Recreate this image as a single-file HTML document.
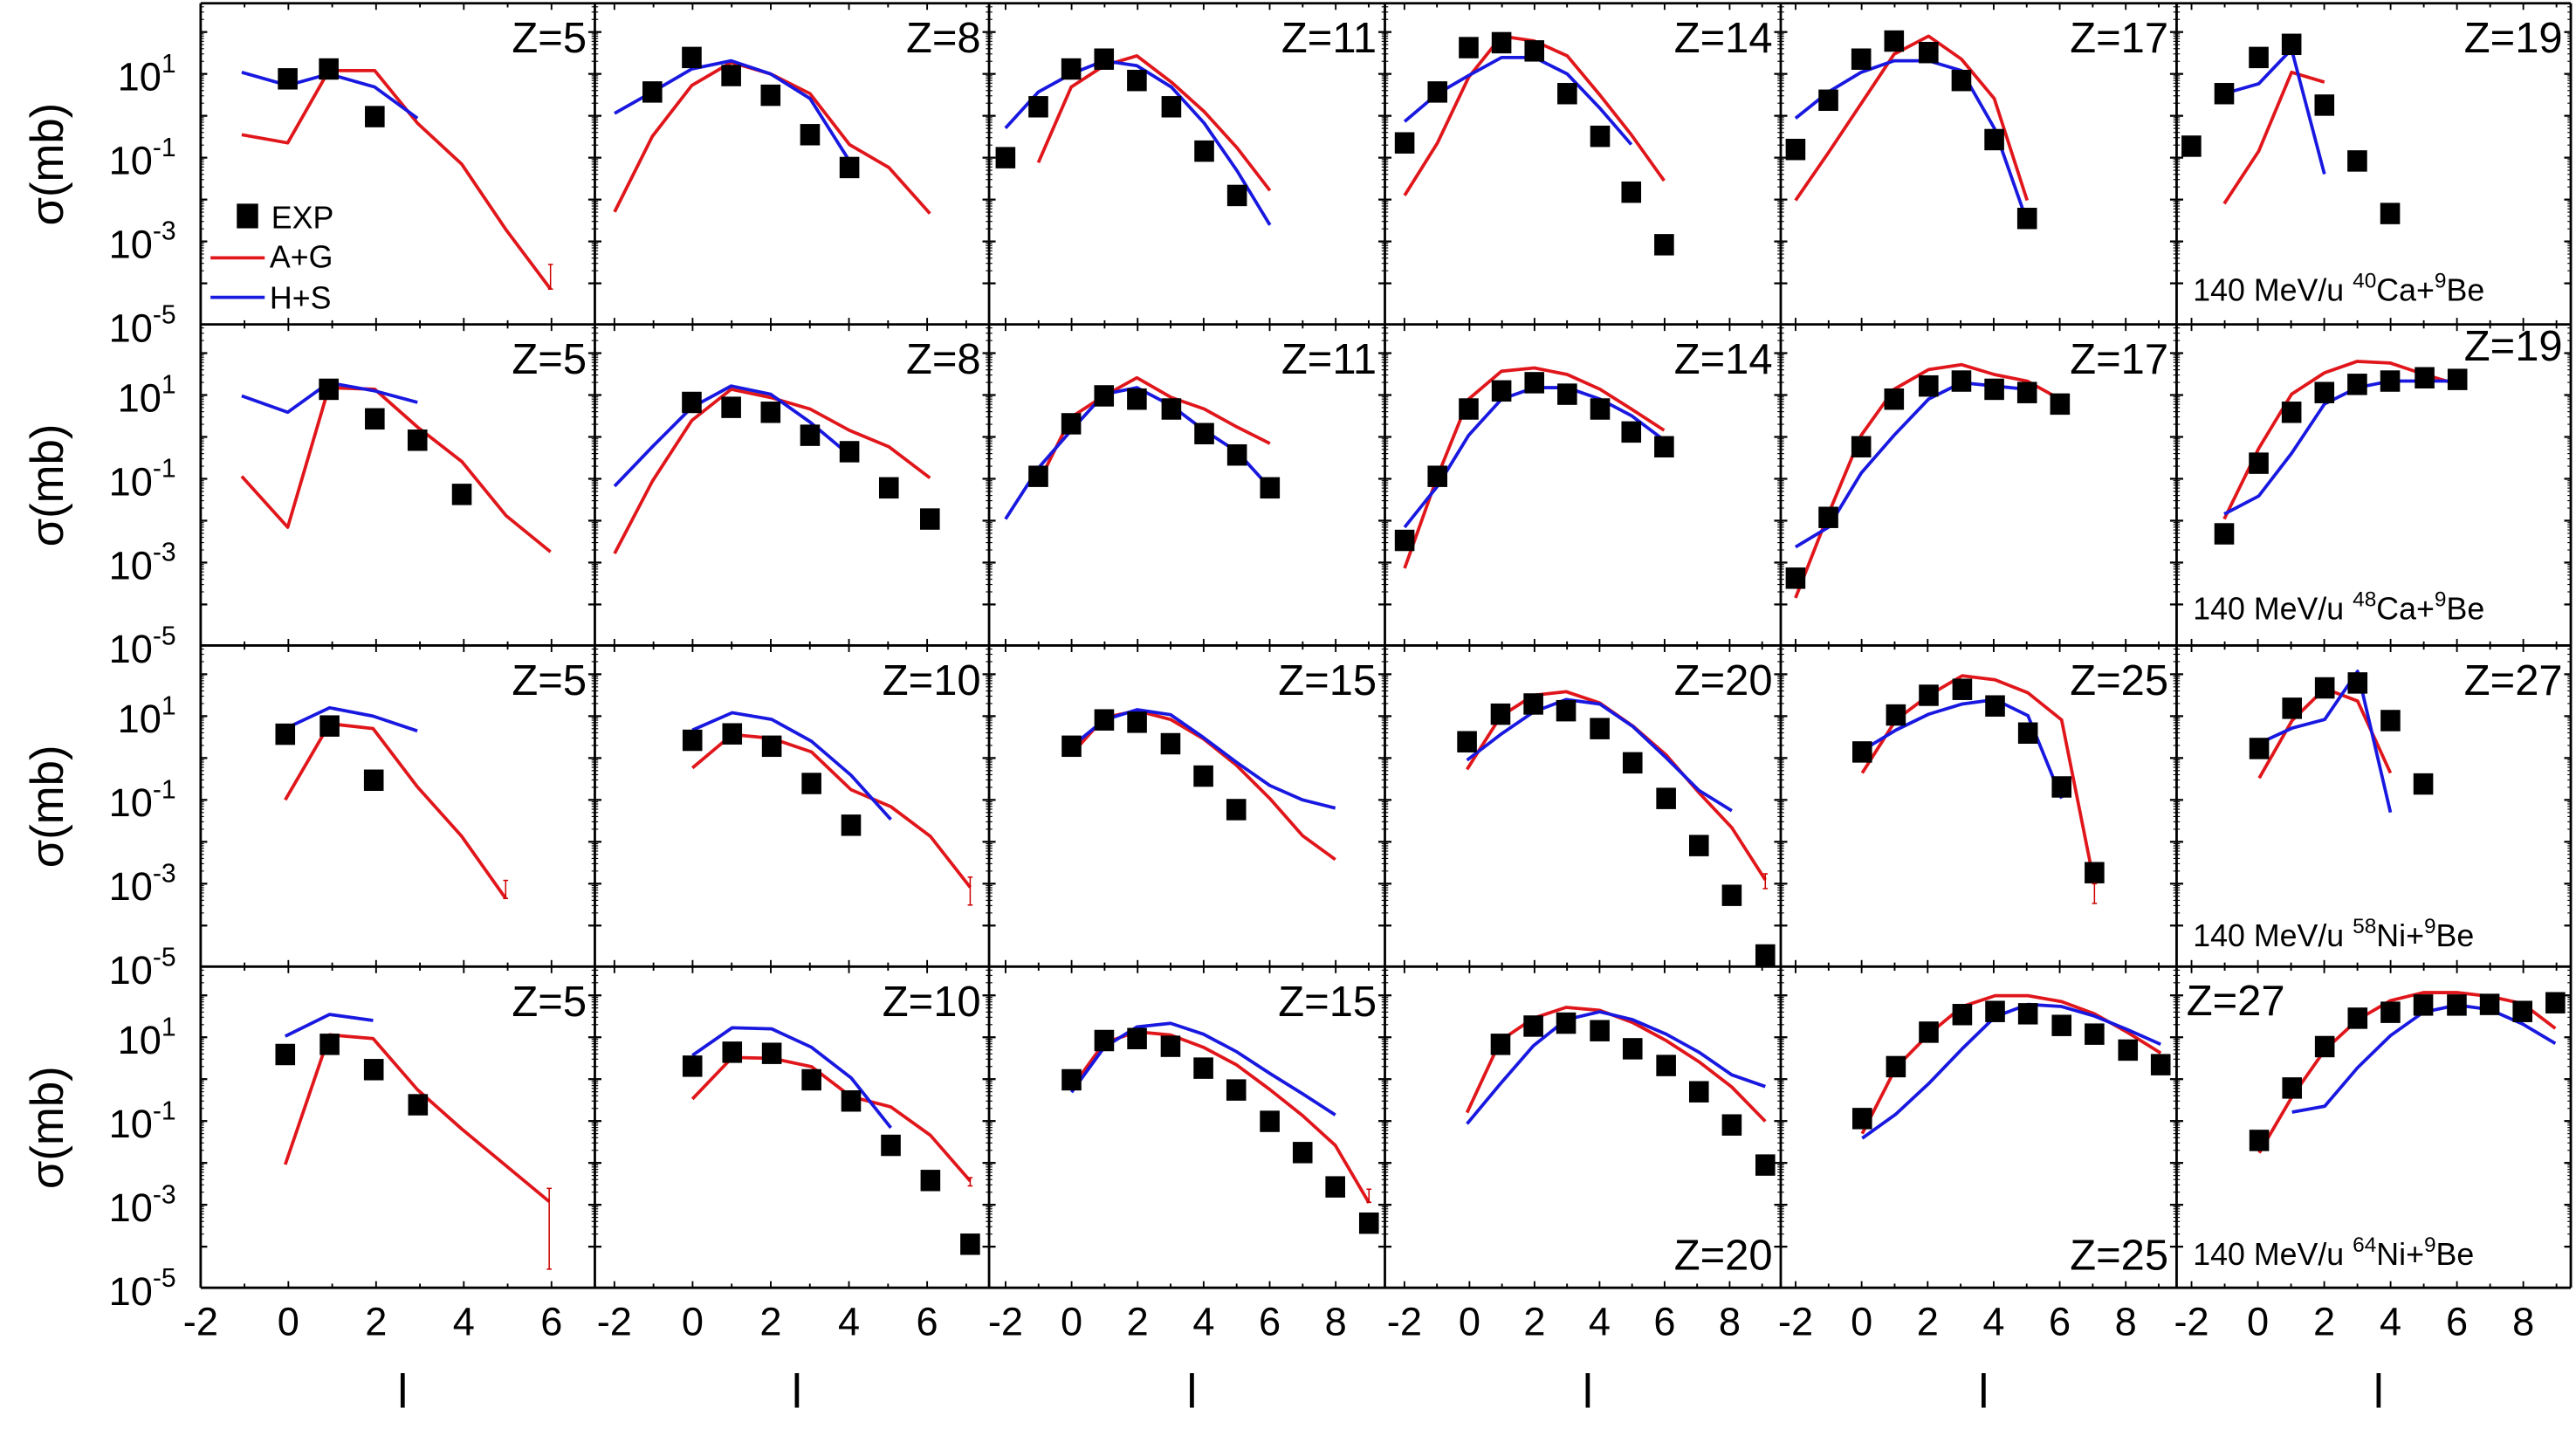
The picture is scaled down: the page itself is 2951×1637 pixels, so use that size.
<!DOCTYPE html>
<html><head><meta charset="utf-8"><style>
html,body{margin:0;padding:0;background:#fff}
svg{display:block}
text{font-family:"Liberation Sans Narrow","Liberation Sans",sans-serif;fill:#000}
</style></head><body>
<svg id="s" width="2951" height="1637" viewBox="0 0 1568 870" xmlns="http://www.w3.org/2000/svg"></svg>
<script>
const S=document.getElementById('s');const NS='http://www.w3.org/2000/svg';
function el(t,a,txt){const e=document.createElementNS(NS,t);for(const k in a)e.setAttribute(k,a[k]);if(txt!==undefined)e.textContent=txt;S.appendChild(e);return e;}
const cols=[122,362,602,843,1084,1325,1565];
const rows=[2,197.5,393,588.5,784];
const P={
'0,0':[[[175,48],[200,42],[228,71]],[[147,82],[175,87],[200,43],[228,43],[254,75],[281,100],[308,140],[335,176]],[[147,44],[175,52],[200,45],[228,53],[254,72]]],
'0,1':[[[397,56],[421,35],[445,46],[469,58],[493,82],[517,102]],[[374,129],[397,83],[421,52],[445,38],[469,45],[493,57],[517,88],[541,102],[566,130]],[[374,69],[397,56],[421,42],[445,37],[469,45],[493,60],[517,98]]],
'0,2':[[[612,96],[632,65],[652,42],[672,36],[692,49],[713,65],[733,92],[753,119]],[[632,99],[652,53],[672,40],[692,34],[713,50],[733,68],[753,90],[773,116]],[[612,78],[632,56],[652,45],[672,37],[692,40],[713,53],[733,75],[753,104],[773,137]]],
'0,3':[[[855,87],[875,56],[894,29],[914,26],[934,31],[954,57],[974,83],[993,117],[1013,149]],[[855,119],[875,87],[894,47],[914,22],[934,25],[954,34],[974,58],[993,82],[1013,110]],[[855,74],[875,57],[894,46],[914,35],[934,35],[954,45],[974,66],[993,88]]],
'0,4':[[[1093,91],[1113,61],[1133,36],[1153,25],[1174,32],[1194,49],[1214,85],[1234,133]],[[1093,122],[1113,93],[1133,63],[1153,33],[1174,22],[1194,36],[1214,60],[1234,122]],[[1093,72],[1113,56],[1133,44],[1153,37],[1174,37],[1194,43],[1214,78],[1234,135]]],
'0,5':[[[1334,89],[1354,57],[1375,35],[1395,27],[1415,64],[1435,98],[1455,130]],[[1354,124],[1375,92],[1395,44],[1415,50]],[[1354,57],[1375,51],[1395,30],[1415,106]]],
'1,0':[[[200,237],[228,255],[254,268],[281,301]],[[147,290],[175,321],[200,236],[228,237],[254,260],[281,281],[308,314],[335,336]],[[147,241],[175,251],[200,233],[228,238],[254,245]]],
'1,1':[[[421,245],[445,248],[469,251],[493,265],[517,275],[541,297],[566,316]],[[374,337],[397,293],[421,256],[445,237],[469,242],[493,249],[517,262],[541,272],[566,291]],[[374,296],[397,272],[421,248],[445,235],[469,240],[493,257],[517,277]]],
'1,2':[[[632,290],[652,258],[672,241],[692,243],[713,249],[733,264],[753,277],[773,297]],[[632,294],[652,254],[672,241],[692,230],[713,242],[733,249],[753,260],[773,270]],[[612,316],[632,285],[652,262],[672,240],[692,236],[713,247],[733,262],[753,275],[773,297]]],
'1,3':[[[855,329],[875,290],[894,249],[914,238],[934,233],[954,240],[974,249],[993,263],[1013,272]],[[855,346],[875,290],[894,243],[914,226],[934,224],[954,228],[974,237],[993,249],[1013,262]],[[855,321],[875,296],[894,265],[914,243],[934,236],[954,236],[974,243],[993,253],[1013,268]]],
'1,4':[[[1093,352],[1113,315],[1133,272],[1153,243],[1174,235],[1194,232],[1214,237],[1234,239],[1254,246]],[[1093,364],[1113,313],[1133,265],[1153,237],[1174,225],[1194,222],[1214,228],[1234,232],[1254,243]],[[1093,333],[1113,321],[1133,288],[1153,265],[1174,243],[1194,233],[1214,235],[1234,237]]],
'1,5':[[[1354,325],[1375,282],[1395,251],[1415,239],[1435,234],[1455,232],[1476,230],[1496,231]],[[1354,316],[1375,273],[1395,240],[1415,227],[1435,220],[1455,221],[1476,228],[1496,234]],[[1354,313],[1375,302],[1395,276],[1415,246],[1435,236],[1455,232],[1476,232],[1496,232]]],
'2,0':[[[173.5,447],[200.5,442],[227.4,475]],[[173.5,487],[200.5,440.6],[227,443.6],[253.9,479],[280.8,509],[307.7,547]],[[173.5,443.6],[200.5,430.9],[227,436],[253.9,445]]],
'2,1':[[[421.4,450.7],[445.6,446.8],[469.7,454.3],[493.9,477],[518,502.4]],[[421.4,467.5],[445.6,447.2],[469.7,449.5],[493.9,457.8],[518,480.8],[542.2,491.1],[566.3,509.2],[590.5,540.2]],[[421.4,444.5],[445.6,433.9],[469.7,438],[493.9,451.3],[518,472],[542.2,498.9]]],
'2,2':[[[652.2,454.3],[672.1,438.3],[692.1,439.7],[712.5,452.8],[732.5,472.5],[752.5,492.9]],[[652.2,459.2],[672.1,436.9],[692.1,432.7],[712.5,438],[732.5,449.8],[752.5,465.8],[772.9,486.1],[792.9,508.8],[812.8,523.3]],[[652.2,454.6],[672.1,438.3],[692.1,432.1],[712.5,435.1],[732.5,449],[752.5,464],[772.9,478.2],[792.9,487],[812.8,492]]],
'2,3':[[[893,451.6],[913.4,434.8],[933.4,428.6],[953.3,432.7],[973.8,443.6],[993.8,464.4],[1014.2,486.1],[1034.2,514.8],[1054.2,545.1],[1074.6,581.4]],[[893,468.4],[913.4,436.2],[933.4,423.3],[953.3,421.1],[973.8,428],[993.8,441.9],[1014.2,459.6],[1034.2,482.6],[1054.2,503.9],[1074.6,535.7]],[[893,462.8],[913.4,447.2],[933.4,433.5],[953.3,425.9],[973.8,428.6],[993.8,442.2],[1014.2,461.3],[1034.2,481.2],[1054.2,493.6]]],
'2,4':[[[1133.6,457.8],[1154.1,435.3],[1174.1,423.3],[1194.5,419.7],[1214.5,429.8],[1234.5,446.3],[1255,479.1],[1275,531.3]],[[1133.6,470.6],[1154.1,438.3],[1174.1,423.3],[1194.5,411.4],[1214.5,413.9],[1234.5,421.8],[1255,438.3],[1275,538.4]],[[1133.6,456.9],[1154.1,444.5],[1174.1,434.8],[1194.5,428.6],[1214.5,425.9],[1234.5,435.7],[1255,486.1]]],
'2,5':[[[1375.3,455.7],[1395.3,431.2],[1415.2,418.8],[1435.2,415.8],[1455.2,438.7],[1475.2,477.3]],[[1375.3,473.7],[1395.3,438.7],[1415.2,419.2],[1435.2,426.8],[1455.2,470.6]],[[1375.3,452.5],[1395.3,443.3],[1415.2,438],[1435.2,408.7],[1455.2,494.6]]],
'3,0':[[[173.5,642],[200.5,635.8],[227.4,651.2],[254.3,672.6]],[[173.5,709],[200.5,630],[227,632.3],[253.9,663.3],[280.8,687.2],[334.2,731.5]],[[173.5,630.9],[200.5,617.6],[227,621.3]]],
'3,1':[[[421.4,649.1],[445.6,640.6],[469.7,641.3],[493.9,657.4],[518,670.3],[542.2,697.3],[566.3,718.7],[590.5,757.5]],[[421.4,669.1],[445.6,643.8],[469.7,644.3],[493.9,649.4],[518,667.7],[542.2,673.9],[566.3,691.2],[590.5,719]],[[421.4,642.5],[445.6,625.7],[469.7,626.4],[493.9,637.6],[518,656.2],[542.2,686.6]]],
'3,2':[[[652.2,657.4],[672.1,633.5],[692.1,632.3],[712.5,637],[732.5,650.3],[752.5,663.6],[772.9,682.7],[792.9,701.7],[812.8,722.6],[833.3,744.7]],[[652.2,662.4],[672.1,634.9],[692.1,628.2],[712.5,630.1],[732.5,637.6],[752.5,648.2],[772.9,663.3],[792.9,679.2],[812.8,697.3],[833.3,732.3]],[[652.2,665],[672.1,637.6],[692.1,625.2],[712.5,623],[732.5,629.6],[752.5,640.2],[772.9,653.5],[792.9,665.9],[812.8,678.8]]],
'3,3':[[[913.4,635.8],[933.4,624.7],[953.3,622.9],[973.8,627.5],[993.8,638.5],[1014.2,648.7],[1034.2,664.7],[1054.2,684.9],[1074.6,709.3]],[[893,677.4],[913.4,633.5],[933.4,619.9],[953.3,613.3],[973.8,615.1],[993.8,622.5],[1014.2,633.5],[1034.2,646.4],[1054.2,661.8],[1074.6,682.7]],[[893,684.2],[913.4,659.7],[933.4,636.7],[953.3,620.8],[973.8,616],[993.8,620.8],[1014.2,629.6],[1034.2,640.6],[1054.2,654.4],[1074.6,661.5]]],
'3,4':[[[1133.6,681],[1154.1,649.4],[1174.1,628.4],[1194.5,617.7],[1214.5,615.8],[1234.5,617.2],[1255,624.3],[1275,629.6],[1295.4,639.3],[1315.3,648.2]],[[1133.6,690.2],[1154.1,650],[1174.1,629.6],[1194.5,612.8],[1214.5,606.2],[1234.5,606.2],[1255,609.8],[1275,617.2],[1295.4,628.7],[1315.3,641.1]],[[1133.6,693],[1154.1,678.3],[1174.1,659.7],[1194.5,638.5],[1214.5,619],[1234.5,611.5],[1255,612.8],[1275,618.6],[1295.4,627],[1315.3,635.8]]],
'3,5':[[[1375.3,694.3],[1395.3,662.4],[1415.2,637.2],[1435.2,619.9],[1455.2,616.3],[1475.2,611.9],[1495.6,611.9],[1515.6,611.5],[1535.6,615.8],[1555.6,610.5]],[[1375.3,701.9],[1395.3,667.7],[1415.2,639.3],[1435.2,620.8],[1455.2,609.2],[1475.2,604.3],[1495.6,604.3],[1515.6,606.6],[1535.6,611],[1555.6,626.1]],[[1395.3,677.1],[1415.2,673.5],[1435.2,650],[1455.2,630.5],[1475.2,616.3],[1495.6,611.9],[1515.6,614.6],[1535.6,623.4],[1555.6,635.3]]]
};
for(const k in P){const [e,r,b]=P[k];
 el('polyline',{points:r.map(p=>p.join(',')).join(' '),fill:'none',stroke:'#e0161b','stroke-width':2,'stroke-linejoin':'round'});
 el('polyline',{points:b.map(p=>p.join(',')).join(' '),fill:'none',stroke:'#1818e0','stroke-width':2,'stroke-linejoin':'round'});
 for(const p of e) el('rect',{x:p[0]-6,y:p[1]-6.5,width:12,height:13,fill:'#000'});
}
[[335,161,176],[307.7,536,547],[590.5,534,551],[1074.6,532,541],[1275,538,550],[334.2,723.5,772.7],[590.5,717,722],[833.3,724,732]].forEach(e=>{
 el('line',{x1:e[0],y1:e[1],x2:e[0],y2:e[2],stroke:'#c00','stroke-width':0.8});
 el('line',{x1:e[0]-1.5,y1:e[1],x2:e[0]+1.5,y2:e[1],stroke:'#c00','stroke-width':0.8});
 el('line',{x1:e[0]-1.5,y1:e[2],x2:e[0]+1.5,y2:e[2],stroke:'#c00','stroke-width':0.8});
});
const x0=[[-2,26.7],[-2.5,23.8],[-2.5,20.1],[-2.6,19.8],[-2.45,20.1],[-2.45,20.2]];
for(let r=0;r<4;r++){for(let c=0;c<6;c++){
 const L=cols[c],R=cols[c+1],T=rows[r],B=rows[r+1];
 for(let d=-5;d<=2;d++){const y=T+43+(1-d)*25.5;if(y<T||y>B)continue;
  el('line',{x1:L,y1:y,x2:L+4,y2:y,stroke:'#000','stroke-width':1.2});
  el('line',{x1:R,y1:y,x2:R-4,y2:y,stroke:'#000','stroke-width':1.2});
  for(let m=2;m<10;m++){const ym=y-Math.log10(m)*25.5;if(ym<T)continue;
   el('line',{x1:L,y1:ym,x2:L+2,y2:ym,stroke:'#000','stroke-width':0.6});
   el('line',{x1:R,y1:ym,x2:R-2,y2:ym,stroke:'#000','stroke-width':0.6});}
 }
 const [xs,u]=x0[c];
 for(let v=-2;v<=9;v++){const x=L+(v-xs)*u;if(x<L-1||x>=R-1)continue;
  const len=(v%2===0)?4:2.5;
  if(x>L+1){el('line',{x1:x,y1:B,x2:x,y2:B-len,stroke:'#000','stroke-width':1});
  el('line',{x1:x,y1:T,x2:x,y2:T+len,stroke:'#000','stroke-width':1});}
  const lim=(c<2)?6:8;
  if(r===3&&v%2===0&&v<=lim) el('text',{x:x,y:813,'font-size':24,'text-anchor':'middle'},String(v));
 }
}}
for(let c=0;c<=6;c++) el('line',{x1:cols[c],y1:rows[0],x2:cols[c],y2:rows[4],stroke:'#000','stroke-width':1.5});
for(let r=0;r<=4;r++) el('line',{x1:cols[0],y1:rows[r],x2:cols[6],y2:rows[r],stroke:'#000','stroke-width':1.5});
for(let r=0;r<4;r++){const T=rows[r];
 [[1,'1'],[-1,'-1'],[-3,'-3'],[-5,'-5']].forEach(([d,s])=>{const y=T+43+(1-d)*25.5;
  const t=el('text',{x:107,y:y+10,'font-size':24,'text-anchor':'end'});t.textContent='10';
  const sp=document.createElementNS(NS,'tspan');sp.setAttribute('dy',-11);sp.setAttribute('font-size',16);sp.textContent=s;t.appendChild(sp);});
 el('text',{x:0,y:0,'font-size':28,'text-anchor':'middle',transform:`translate(38,${T+98}) rotate(-90)`},'σ(mb)');
}
const Z=[['Z=5','Z=8','Z=11','Z=14','Z=17','Z=19'],['Z=5','Z=8','Z=11','Z=14','Z=17','Z=19'],['Z=5','Z=10','Z=15','Z=20','Z=25','Z=27'],['Z=5','Z=10','Z=15','','','']];
for(let r=0;r<4;r++)for(let c=0;c<6;c++){if(!Z[r][c])continue;
 el('text',{x:cols[c+1]-5,y:rows[r]+(r==1&&c==5?22:30),'font-size':26,'text-anchor':'end'},Z[r][c]);}
el('text',{x:cols[4]-5,y:773,'font-size':26,'text-anchor':'end'},'Z=20');
el('text',{x:cols[5]-5,y:773,'font-size':26,'text-anchor':'end'},'Z=25');
el('text',{x:1331,y:618,'font-size':26},'Z=27');
function rx(y,A,el1){const t=el('text',{x:1335,y:y,'font-size':19});
 const parts=[['140 MeV/u ',0],[A,1],[el1+'+',0],['9',1],['Be',0]];
 parts.forEach(([s,sup],i)=>{const sp=document.createElementNS(NS,'tspan');sp.textContent=s;
  if(sup){sp.setAttribute('font-size',13);sp.setAttribute('dy',-8);}else if(i>0){sp.setAttribute('dy',8);}
  t.appendChild(sp);});}
rx(183,'40','Ca');rx(377,'48','Ca');rx(576,'58','Ni');rx(770,'64','Ni');
el('rect',{x:144,y:124,width:13,height:15,fill:'#000'});
el('text',{x:165,y:139,'font-size':19},'EXP');
el('line',{x1:128,y1:157,x2:161,y2:157,stroke:'#e0161b','stroke-width':2});
el('text',{x:164,y:163,'font-size':19},'A+G');
el('line',{x1:128,y1:181,x2:161,y2:181,stroke:'#1818e0','stroke-width':2});
el('text',{x:164,y:188,'font-size':19},'H+S');
for(let c=0;c<6;c++){const x=(cols[c]+cols[c+1])/2+3;el('line',{x1:x,y1:836,x2:x,y2:857,stroke:'#000','stroke-width':2.5});}
</script>
</body></html>
